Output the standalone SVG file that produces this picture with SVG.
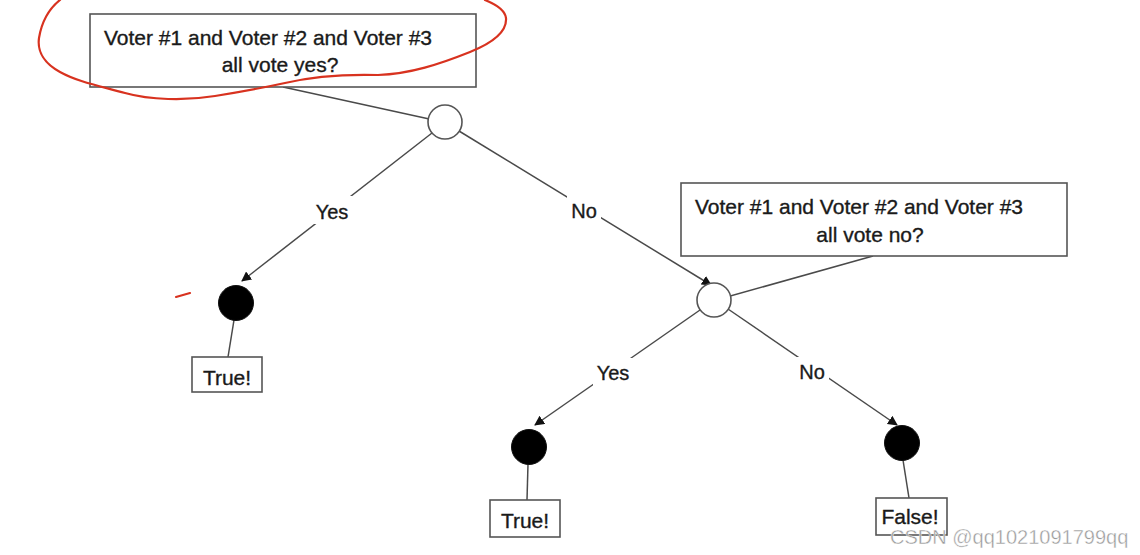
<svg xmlns="http://www.w3.org/2000/svg" width="1140" height="555" viewBox="0 0 1140 555">
<style>
.box{fill:#fff;stroke:#555;stroke-width:1.6}
.t{font-family:"Liberation Sans",Arial,sans-serif;font-size:21px;fill:#1a1a1a;stroke:#1a1a1a;stroke-width:0.35;text-anchor:middle}
.lbl{font-family:"Liberation Sans",Arial,sans-serif;font-size:20px;fill:#1a1a1a;stroke:#1a1a1a;stroke-width:0.35;text-anchor:middle}
.ln{stroke:#4a4a4a;stroke-width:1.5;fill:none}
.oc{fill:#fff;stroke:#555;stroke-width:1.6}
.fc{fill:#000;stroke:#111;stroke-width:1}
.bg{fill:#fff}
</style>
<defs>
<marker id="ah" viewBox="0 0 10 10" refX="9" refY="5" markerWidth="10" markerHeight="10" markerUnits="userSpaceOnUse" orient="auto">
<path d="M0,0 L10,5 L0,10 z" fill="#111"/>
</marker>
</defs>
<rect width="1140" height="555" fill="#fff"/>
<g id="connectors">
<line class="ln" x1="283" y1="87" x2="443" y2="122"/>
<line class="ln" x1="432" y1="133" x2="242" y2="281" marker-end="url(#ah)"/>
<line class="ln" x1="459" y1="131" x2="711" y2="285" marker-end="url(#ah)"/>
<line class="ln" x1="873" y1="256" x2="716" y2="300"/>
<line class="ln" x1="700" y1="310" x2="535" y2="425" marker-end="url(#ah)"/>
<line class="ln" x1="728" y1="309" x2="897" y2="425" marker-end="url(#ah)"/>
<line class="ln" x1="234" y1="320" x2="228" y2="357"/>
<line class="ln" x1="528" y1="464" x2="527" y2="500"/>
<line class="ln" x1="903" y1="460" x2="909" y2="498"/>
<rect class="bg" x="312" y="196" width="40" height="28"/>
<text class="lbl" x="332" y="219">Yes</text>
<rect class="bg" x="567" y="196" width="34" height="28"/>
<text class="lbl" x="584" y="218">No</text>
<rect class="bg" x="593" y="358" width="40" height="28"/>
<text class="lbl" x="613" y="380">Yes</text>
<rect class="bg" x="795" y="357" width="34" height="28"/>
<text class="lbl" x="812" y="379">No</text>
</g>
<g id="q1">
<rect class="box" x="90" y="14" width="386" height="73"/>
<text class="t" x="268" y="45">Voter #1 and Voter #2 and Voter #3</text>
<text class="t" x="280" y="72">all vote yes?</text>
</g>
<g id="c1"><circle class="oc" cx="445" cy="122" r="17"/></g>
<g id="q2">
<rect class="box" x="681" y="183" width="386" height="73"/>
<text class="t" x="859" y="214">Voter #1 and Voter #2 and Voter #3</text>
<text class="t" x="870" y="242">all vote no?</text>
</g>
<g id="c2"><circle class="oc" cx="714" cy="300" r="17"/></g>
<g id="f1"><circle class="fc" cx="236" cy="303" r="17.5"/></g>
<g id="f2"><circle class="fc" cx="529" cy="447" r="17.5"/></g>
<g id="f3"><circle class="fc" cx="902" cy="443" r="17.5"/></g>
<g id="r1">
<rect class="box" x="192" y="357" width="70" height="35"/>
<text class="t" x="227" y="385">True!</text>
</g>
<g id="r2">
<rect class="box" x="490" y="500" width="70" height="37"/>
<text class="t" x="525" y="528">True!</text>
</g>
<g id="r3">
<rect class="box" x="876" y="498" width="71" height="37"/>
<text class="t" x="910" y="524">False!</text>
</g>
<g id="annotation" fill="none" stroke="#d8321f" stroke-width="2.2" stroke-linecap="round" stroke-linejoin="round">
<path d="M60,0 C50,8 42,20 39,38 C37,52 45,64 60,72 C78,82 100,86 125,93 C150,100 185,101 215,96 C240,92 262,88 285,83 C310,77 340,74 378,75 C410,74 440,64 470,52 C495,42 507,30 506,18 C505,10 495,4 485,0"/>
<path d="M176,297 L190,293"/>
</g>
<text x="890" y="544" font-family="'Liberation Sans',Arial,sans-serif" font-size="20" fill="#9a9a9a" stroke="#fff" stroke-width="0.4">CSDN @qq1021091799qq</text>
</svg>
